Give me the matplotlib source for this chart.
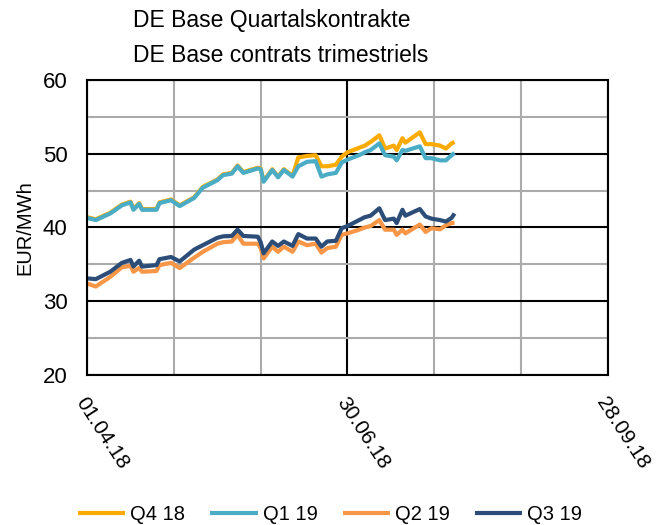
import pandas as pd
import matplotlib
matplotlib.use("Agg")
import matplotlib.pyplot as plt
import matplotlib.transforms as mtransforms
from matplotlib.ticker import MultipleLocator, FixedLocator

plt.rcParams['font.family'] = ['Liberation Sans', 'DejaVu Sans']

# Days after 01.04.18
day_offsets = [0, 3, 8, 12, 15, 16, 18, 19, 24, 25,
               29, 32, 37, 40, 45, 47, 50, 52, 54, 59,
               60, 61, 64, 66, 68, 71, 73, 76, 79, 81,
               83, 86, 88, 90, 94, 96, 98, 101, 103, 106,
               107, 109, 110, 115, 117, 119, 122, 124, 126, 127]

q4_18 = [41.4, 41.1, 42.0, 43.1, 43.5, 42.5, 43.3, 42.5, 42.5, 43.4,
         43.8, 43.0, 44.1, 45.5, 46.5, 47.2, 47.4, 48.4, 47.5, 48.1,
         48.0, 46.3, 47.9, 46.9, 47.9, 47.0, 49.5, 49.7, 49.8, 48.3,
         48.3, 48.5, 49.6, 50.2, 50.8, 51.1, 51.6, 52.5, 50.7, 51.1,
         50.5, 52.1, 51.5, 52.9, 51.3, 51.3, 51.1, 50.7, 51.4, 51.6]

q1_19 = [41.3, 41.0, 41.9, 43.0, 43.4, 42.4, 43.2, 42.4, 42.4, 43.3,
         43.7, 42.9, 44.0, 45.4, 46.4, 47.1, 47.3, 48.3, 47.4, 48.0,
         47.9, 46.2, 47.8, 46.8, 47.8, 46.9, 48.3, 48.9, 49.0, 46.9,
         47.2, 47.4, 48.8, 49.2, 49.8, 50.2, 50.5, 51.4, 49.8, 49.6,
         49.1, 50.5, 50.4, 51.0, 49.4, 49.4, 49.1, 49.1, 49.8, 50.1]

q2_19 = [32.4, 32.0, 33.3, 34.6, 34.8, 34.0, 34.5, 34.0, 34.1, 34.9,
         35.2, 34.5, 35.9, 36.7, 37.8, 38.0, 38.1, 39.0, 37.8, 37.8,
         37.2, 35.8, 37.4, 36.7, 37.4, 36.7, 38.1, 37.6, 37.8, 36.6,
         37.2, 37.4, 39.0, 39.2, 39.7, 40.0, 40.2, 41.0, 39.7, 39.7,
         39.0, 39.7, 39.2, 40.4, 39.4, 39.9, 39.75, 40.3, 40.6, 40.65]

q3_19 = [33.1, 33.0, 34.0, 35.2, 35.6, 34.7, 35.5, 34.7, 34.9, 35.7,
         36.0, 35.4, 37.0, 37.6, 38.6, 38.8, 38.85, 39.7, 38.85, 38.75,
         38.0, 36.5, 38.1, 37.5, 38.1, 37.5, 39.1, 38.5, 38.5, 37.4,
         38.1, 38.2, 39.9, 40.2, 41.0, 41.4, 41.6, 42.6, 41.0, 41.2,
         40.6, 42.4, 41.6, 42.5, 41.5, 41.2, 41.0, 40.8, 41.3, 41.9]

series = {
    "Q4 18": (q4_18, "#FBAB00"),
    "Q1 19": (q1_19, "#4BACC6"),
    "Q2 19": (q2_19, "#F79646"),
    "Q3 19": (q3_19, "#2C4D78"),
}

tick_labels = ["01.04.18", "30.06.18", "28.09.18"]

fig = plt.figure(figsize=(6.6, 5.25), dpi=100)
ax = fig.add_axes([0.132, 0.2857, 0.789, 0.562])

for name, (vals, col) in series.items():
    ax.plot(day_offsets, vals, color=col, lw=3, label=name,
            solid_joinstyle="round", solid_capstyle="butt")

ax.set_xlim(0, 180)
ax.set_ylim(20, 60)
ax.xaxis.set_major_locator(FixedLocator([0, 90, 180]))
ax.xaxis.set_minor_locator(MultipleLocator(30))
ax.yaxis.set_major_locator(MultipleLocator(10))
ax.yaxis.set_minor_locator(MultipleLocator(5))
ax.set_xticklabels(tick_labels, rotation=-57, ha="left", va="center",
                   rotation_mode="anchor", fontsize=15)
ax.tick_params(axis="x", which="both", length=0, pad=17)
ax.tick_params(axis="y", which="both", length=0, pad=14, labelsize=16)

# nudge the rotated date labels a little to the left
shift = mtransforms.ScaledTranslation(-7 / 100, 0, fig.dpi_scale_trans)
for lbl in ax.get_xticklabels():
    lbl.set_transform(lbl.get_transform() + shift)

ax.set_axisbelow(True)
ax.grid(which="minor", color="#ABABAB", lw=1.5)
ax.grid(which="major", color="black", lw=1.5)
for s in ax.spines.values():
    s.set_color("black")
    s.set_linewidth(1.5)

ax.set_ylabel("EUR/MWh", fontsize=14.5, labelpad=6)

fig.text(133 / 660, 1 - 21 / 525, "DE Base Quartalskontrakte", fontsize=16.5, va="center", ha="left")
fig.text(133 / 660, 1 - 56 / 525, "DE Base contrats trimestriels", fontsize=16.5, va="center", ha="left")

fig.legend(loc="center", bbox_to_anchor=(0.5, 10 / 525), ncol=4, frameon=False,
           fontsize=14.5, handlelength=2.35, handletextpad=0.25, columnspacing=1.25,
           borderaxespad=0, borderpad=0)

fig.savefig("out.png", dpi=100)
